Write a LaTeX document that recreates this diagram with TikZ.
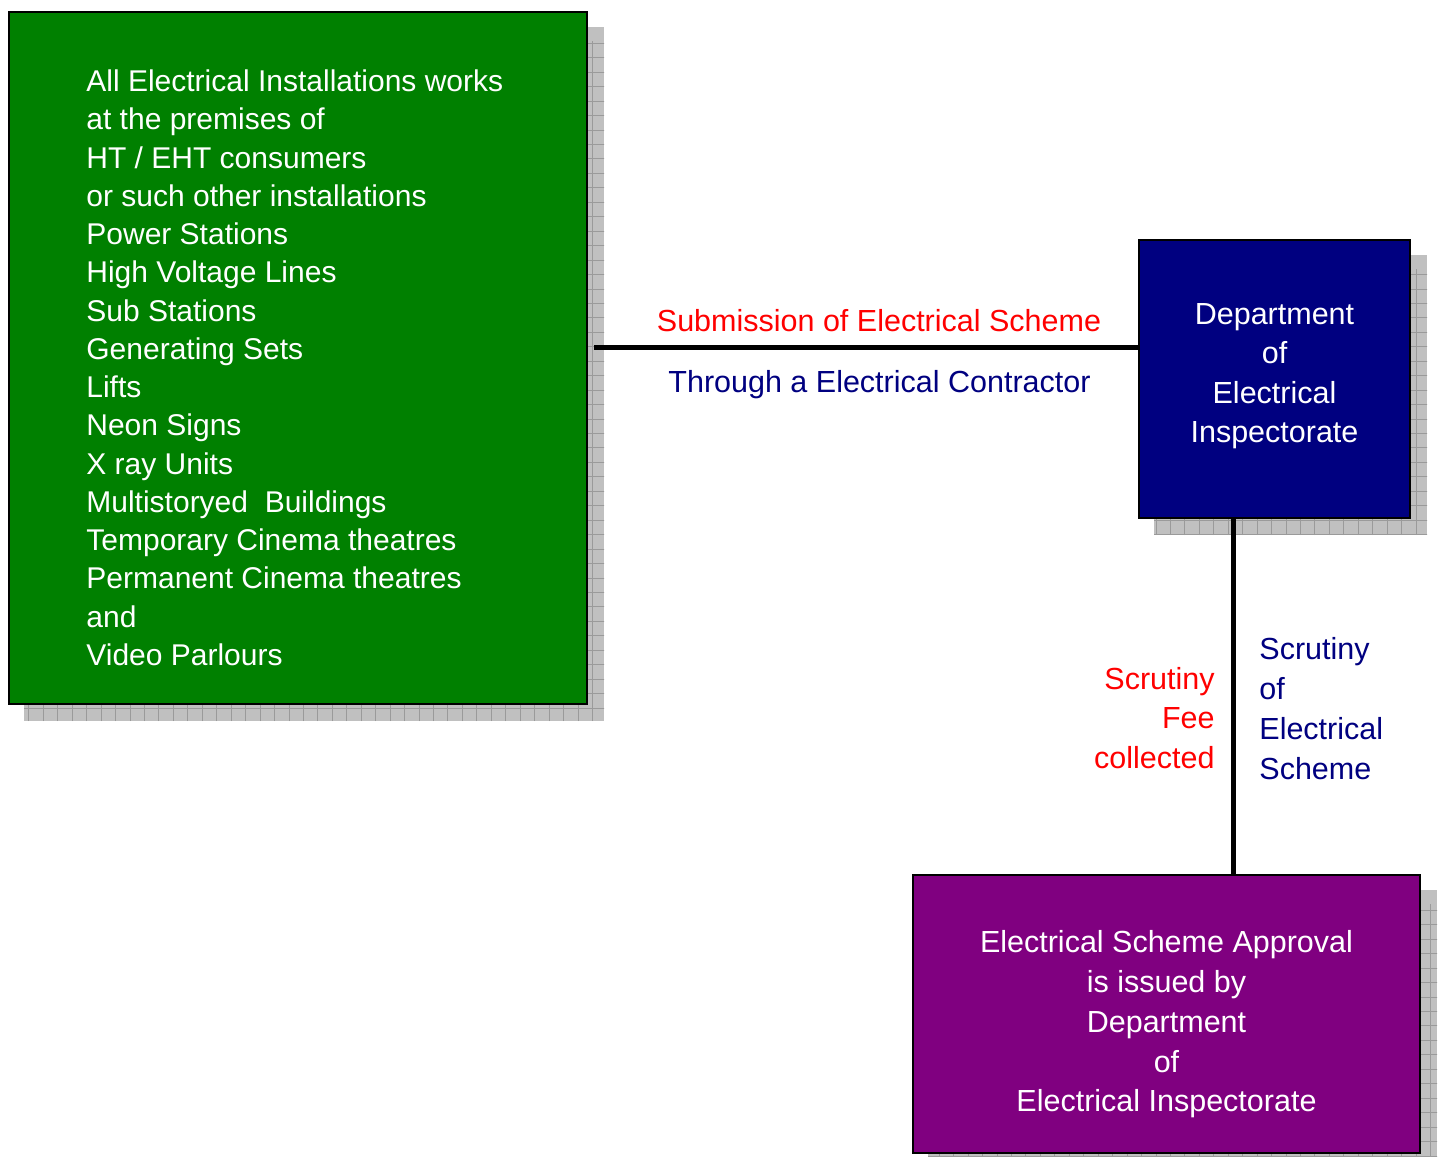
\documentclass[tikz,border=0pt]{standalone}
\usepackage{fontspec}
\setmainfont{Liberation Sans}
\usetikzlibrary{backgrounds,calc}
\definecolor{boxgreen}{HTML}{008000}
\definecolor{boxnavy}{HTML}{000080}
\definecolor{boxpurple}{HTML}{800080}
\definecolor{shadowgray}{HTML}{C0C0C0}
\definecolor{gridgray}{HTML}{9A9A9A}
\definecolor{labelred}{HTML}{FF0000}
\tikzset{
  box/.style={draw=black, line width=1pt, inner sep=0pt},
  boxtext/.style={inner sep=0pt, text=white},
  lbl/.style={inner sep=0pt},
  conn/.style={line width=2.5pt, draw=black},
  shadowfill/.style={fill=shadowgray},
  gridline/.style={draw=gridgray, line width=0.5pt, xstep=7.225pt, ystep=7.225pt},
}
\newcommand{\fs}[1]{\fontsize{15.25pt}{#1}\selectfont}
\newcommand{\fsg}[1]{\fontsize{15pt}{#1}\selectfont}
\begin{document}
\begin{tikzpicture}[x=0.5pt, y=-0.5pt]
\useasboundingbox (0,0) rectangle (1441,1157);

% boxes
\node[box, fill=boxgreen, minimum width=289pt, minimum height=346pt] (green) at (298,358) {};
\node[box, fill=boxnavy, minimum width=135.5pt, minimum height=139pt] (blue) at (1274.5,379) {};
\node[box, fill=boxpurple, minimum width=253.5pt, minimum height=139pt] (purple) at (1166.5,1014) {};

% page background and shadows
\begin{pgfonlayer}{background}
\fill[white] (0,0) rectangle (1441,1157);
\foreach \n in {green,blue,purple}{
  \fill[shadowfill] ([shift={(16,16)}]\n.south west) rectangle ([shift={(16,16)}]\n.north east);
  \begin{scope}
    \clip ([shift={(16,16)}]\n.south west) rectangle ([shift={(16,16)}]\n.north east);
    \draw[gridline] ([shift={(16,16)}]\n.south west) grid ([shift={(30,30)}]\n.north east);
  \end{scope}
}
\end{pgfonlayer}

% box texts
\node[boxtext, anchor=west, align=left, font=\fsg{19.13pt}] (greentext) at (86,367.8)
{All Electrical Installations works\\
at the premises of\\
HT / EHT consumers\\
or such other installations\\
Power Stations\\
High Voltage Lines\\
Sub Stations\\
Generating Sets\\
Lifts\\
Neon Signs\\
X ray Units\\
Multistoryed~~Buildings\\
Temporary Cinema theatres\\
Permanent Cinema theatres\\
and\\
Video Parlours};

\node[boxtext, align=center, font=\fs{19.7pt}] (bluetext) at (1274.5,376)
{Department\\ of\\ Electrical\\ Inspectorate};

\node[boxtext, align=center, font=\fs{19.875pt}] (purpletext) at (1166.5,1024.5)
{Electrical Scheme Approval\\ is issued by\\ Department\\ of\\ Electrical Inspectorate};

% connectors
\coordinate (hstart) at (594,347);
\draw[conn] (hstart) -- (hstart -| blue.west);
\coordinate (vx) at (1233,0);
\draw[conn] (blue.south -| vx) -- (purple.north -| vx);

% connector labels
\node[lbl, anchor=base, text=labelred, font=\fs{19pt}] (sublabel) at (879,331)
{Submission of Electrical Scheme};
\node[lbl, anchor=base, text=boxnavy, font=\fs{19pt}] (thrulabel) at (879.5,392.5)
{Through a Electrical Contractor};
\node[lbl, anchor=east, align=right, text=labelred, font=\fs{19.6pt}] (feelabel) at (1215,718)
{Scrutiny\\ Fee\\ collected};
\node[lbl, anchor=west, align=left, text=boxnavy, font=\fs{19.9pt}] (scrlabel) at (1259,708.5)
{Scrutiny\\ of\\ Electrical\\ Scheme};
\end{tikzpicture}
\end{document}
